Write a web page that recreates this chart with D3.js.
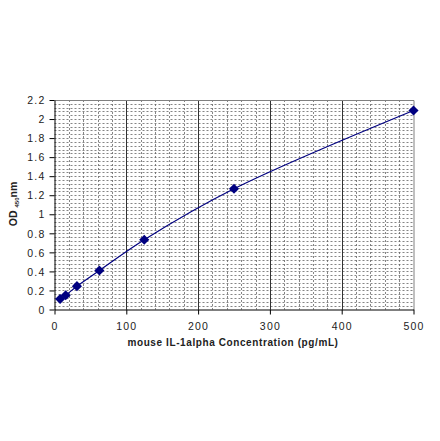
<!DOCTYPE html>
<html><head><meta charset="utf-8">
<script src="https://cdn.jsdelivr.net/npm/d3@7"></script>
<style>body{margin:0;background:#fff;} svg{display:block;}</style>
</head><body>
<svg id="c" width="440" height="441"></svg>
<script>
const concentrations = [7.8, 15.6, 31.25, 62.5, 125, 250, 500];
const odValues = [0.11, 0.15, 0.245, 0.41, 0.733, 1.268, 2.09];
const xTicks = [0, 100, 200, 300, 400, 500];
const yTicks = [0, 0.2, 0.4, 0.6, 0.8, 1, 1.2, 1.4, 1.6, 1.8, 2, 2.2];
const xTitle = "mouse IL-1alpha Concentration (pg/mL)";

const svg = d3.select("#c");
const L = 54.5, R = 413.5, T = 100, B = 309.5;
const x = d3.scaleLinear().domain([0, 500]).range([L, R]);
const y = d3.scaleLinear().domain([0, 2.2]).range([B, T]);

const g = svg.append("g");
const hMinor = d3.range(1, 55).map(i => i * 0.04);
g.selectAll(".hm").data(hMinor).enter().append("line")
  .attr("x1", L).attr("x2", R)
  .attr("y1", d => Math.round(y(d)) + 0.5).attr("y2", d => Math.round(y(d)) + 0.5)
  .attr("stroke", "#666").attr("stroke-width", 0.8).attr("stroke-dasharray", "2,2");
const vMinor = d3.range(1, 25).map(i => i * 20).filter(v => v % 100 !== 0);
g.selectAll(".vm").data(vMinor).enter().append("line")
  .attr("y1", T).attr("y2", B)
  .attr("x1", d => Math.round(x(d)) + 0.5).attr("x2", d => Math.round(x(d)) + 0.5)
  .attr("stroke", "#666").attr("stroke-width", 0.8).attr("stroke-dasharray", "2,2");
g.selectAll(".vM").data([100, 200, 300, 400]).enter().append("line")
  .attr("y1", T).attr("y2", B)
  .attr("x1", d => Math.round(x(d)) + 0.5).attr("x2", d => Math.round(x(d)) + 0.5)
  .attr("stroke", "#333").attr("stroke-width", 1);
g.append("path").attr("d", `M${L},${T+0.5}H${R+0.5}V${B}`)
  .attr("fill", "none").attr("stroke", "#808080").attr("stroke-width", 1);

const xAxis = d3.axisBottom(x).tickValues(xTicks).tickSize(5).tickSizeOuter(0).tickFormat(d3.format("d"));
const yAxis = d3.axisLeft(y).tickValues(yTicks).tickSize(5).tickSizeOuter(0).tickFormat(d => d === 0 ? "0" : d3.format("~g")(d));
const gx = svg.append("g").attr("transform", `translate(0,${B})`).call(xAxis);
const gy = svg.append("g").attr("transform", `translate(${L},0)`).call(yAxis);
[gx, gy].forEach(a => {
  a.select(".domain").attr("stroke", "#000");
  a.selectAll(".tick line").attr("stroke", "#000");
  a.selectAll("text").attr("fill", "#222").style("font-family", "Liberation Sans, Arial, sans-serif")
    .style("font-size", "10.5px").style("letter-spacing", "1.2px");
});
gx.selectAll("text").attr("dy", "1.2em");
gy.selectAll("text").attr("x", -9).attr("dy", "0.35em");

const pts = concentrations.map((c, i) => [c, odValues[i]]);
const line = d3.line().x(d => x(d[0])).y(d => y(d[1])).curve(d3.curveCatmullRom.alpha(0.5));
svg.append("path").datum(pts).attr("d", line).attr("fill", "none")
  .attr("stroke", "#000080").attr("stroke-width", 1.2);
svg.selectAll(".pt").data(pts).enter().append("path")
  .attr("d", d3.symbol().type(d3.symbolDiamond2).size(65))
  .attr("transform", d => `translate(${x(d[0])},${y(d[1])})`)
  .attr("fill", "#000080");

svg.append("text").attr("x", 233).attr("y", 346).attr("text-anchor", "middle")
  .style("font-family", "Liberation Sans, Arial, sans-serif").style("font-size", "10px")
  .style("font-weight", "bold").style("letter-spacing", "0.6px").attr("fill", "#222")
  .text(xTitle);
const yt = svg.append("text").attr("transform", "translate(17,204) rotate(-90)").attr("text-anchor", "middle")
  .style("font-family", "Liberation Sans, Arial, sans-serif").style("font-size", "10.5px")
  .style("font-weight", "bold").attr("fill", "#222");
yt.append("tspan").text("OD ");
yt.append("tspan").style("font-size", "6px").attr("dy", "2").text("450");
yt.append("tspan").attr("dy", "-2").text("nm");
</script>
</body></html>
